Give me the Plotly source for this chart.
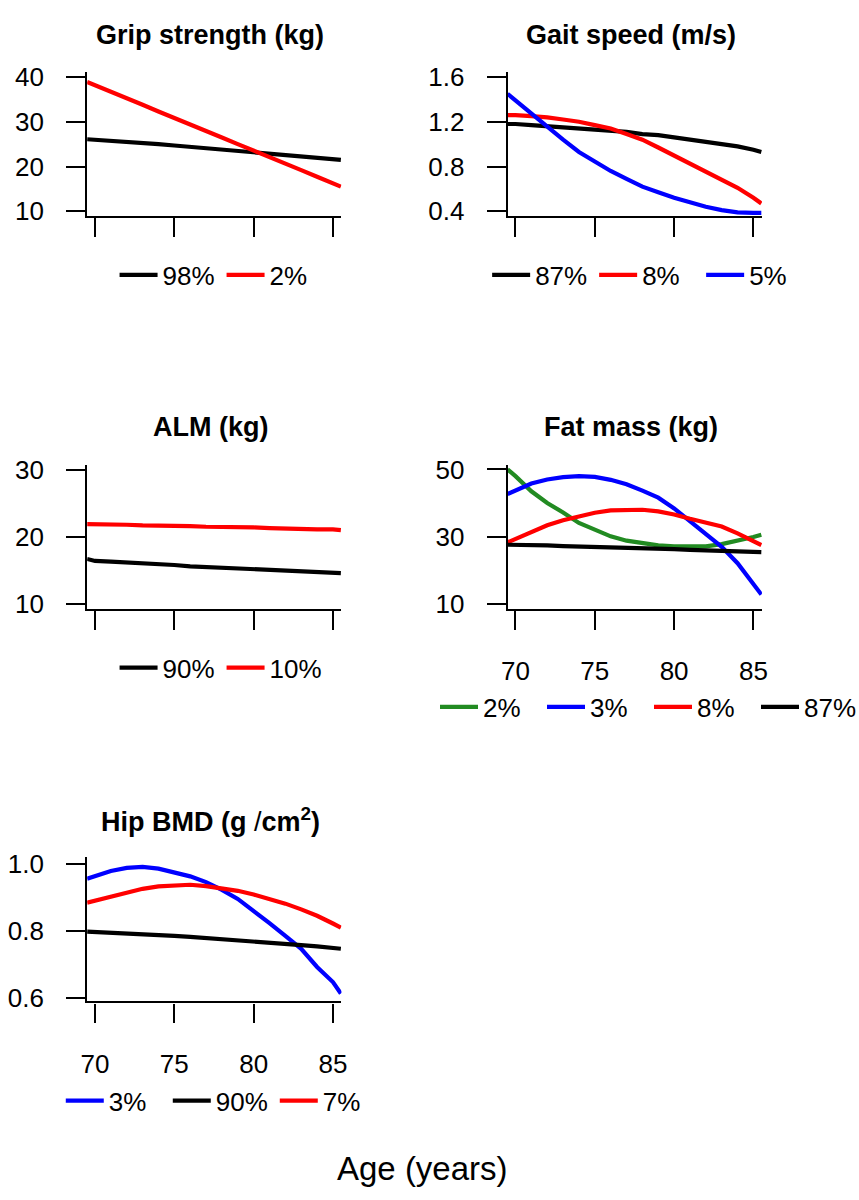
import plotly.graph_objects as go

# ---- data -------------------------------------------------------------
AGE = [69.5, 70, 71, 72, 73, 74, 75, 76, 77, 78, 79, 80, 81, 82, 83, 84, 85, 85.5]

grip_98 = [26.1, 26.0, 25.8, 25.5, 25.2, 25.0, 24.7, 24.4, 24.1, 23.8, 23.5, 23.3, 23.0, 22.7, 22.4, 22.1, 21.8, 21.5]
grip_2 = [38.9, 38.2, 36.7, 35.3, 33.8, 32.3, 30.9, 29.4, 27.9, 26.5, 25.0, 23.6, 22.1, 20.7, 19.2, 17.7, 16.3, 15.5]

gait_87 = [1.18, 1.18, 1.17, 1.16, 1.15, 1.14, 1.13, 1.12, 1.11, 1.09, 1.08, 1.06, 1.04, 1.02, 1.00, 0.98, 0.95, 0.93]
gait_8 = [1.26, 1.26, 1.25, 1.24, 1.22, 1.20, 1.17, 1.14, 1.09, 1.04, 0.97, 0.90, 0.83, 0.75, 0.68, 0.61, 0.52, 0.47]
gait_5 = [1.45, 1.39, 1.27, 1.15, 1.04, 0.93, 0.84, 0.76, 0.69, 0.62, 0.57, 0.52, 0.48, 0.44, 0.41, 0.39, 0.385, 0.385]

alm_90 = [16.7, 16.4, 16.3, 16.2, 16.0, 15.9, 15.8, 15.6, 15.5, 15.4, 15.2, 15.1, 15.0, 14.9, 14.8, 14.7, 14.6, 14.6]
alm_10 = [21.9, 21.9, 21.8, 21.8, 21.7, 21.7, 21.6, 21.6, 21.5, 21.5, 21.4, 21.4, 21.3, 21.2, 21.2, 21.1, 21.1, 21.0]

fat_2 = [50.0, 48.0, 43.5, 40.0, 37.2, 34.1, 32.1, 30.1, 28.8, 28.0, 27.4, 27.1, 27.0, 27.1, 27.8, 28.7, 29.9, 30.6]
fat_3 = [42.7, 43.8, 45.8, 47.0, 47.7, 48.0, 47.8, 46.9, 45.6, 43.7, 41.6, 38.4, 34.7, 30.9, 27.0, 22.1, 16.2, 12.8]
fat_8 = [28.3, 29.3, 31.3, 33.4, 34.9, 36.1, 37.1, 37.8, 38.0, 38.0, 37.5, 36.6, 35.3, 34.1, 33.0, 31.0, 28.7, 27.5]
fat_87 = [27.6, 27.6, 27.5, 27.4, 27.2, 27.1, 27.0, 26.8, 26.7, 26.6, 26.4, 26.3, 26.1, 26.0, 25.8, 25.6, 25.5, 25.4]

hip_3 = [0.955, 0.962, 0.978, 0.987, 0.990, 0.985, 0.975, 0.962, 0.945, 0.922, 0.895, 0.860, 0.823, 0.785, 0.747, 0.693, 0.648, 0.614]
hip_90 = [0.798, 0.797, 0.795, 0.793, 0.790, 0.788, 0.785, 0.782, 0.779, 0.776, 0.773, 0.769, 0.766, 0.762, 0.758, 0.754, 0.749, 0.747]
hip_7 = [0.884, 0.890, 0.902, 0.915, 0.925, 0.932, 0.936, 0.937, 0.933, 0.927, 0.919, 0.908, 0.895, 0.881, 0.864, 0.845, 0.822, 0.810]

X_TICKS = [70, 75, 80, 85]
GRIP_TICKS = [10, 20, 30, 40]
GAIT_TICKS = [0.4, 0.8, 1.2, 1.6]
GAIT_TICK_TEXT = ["0.4", "0.8", "1.2", "1.6"]
ALM_TICKS = [10, 20, 30]
FAT_TICKS = [10, 30, 50]
HIP_TICKS = [0.6, 0.8, 1.0]
HIP_TICK_TEXT = ["0.6", "0.8", "1.0"]

TITLES = ["Grip strength (kg)", "Gait speed (m/s)", "ALM (kg)", "Fat mass (kg)",
          "Hip BMD (g<span style='font-weight:normal'> /</span>cm<sup>2</sup>)"]
X_LABEL = "Age (years)"

# ---- page geometry (pixels) -------------------------------------------
W, H = 859, 1200
FONT = "Liberation Sans, Arial, sans-serif"
BLACK, RED, BLUE, GREEN = "#000000", "#ff0000", "#0000ff", "#228b22"
TICK_SIZE, LEG_SIZE, TITLE_SIZE, XLAB_SIZE = 26, 26, 27, 33

COLS = [(82, 342), (512, 772)]          # left/right pixel edge of each plot box
ROWS = [(63, 210), (463, 610), (863, 1010)]  # top/bottom pixel edge


def px_x(p):
    return p / W


def px_y(p):
    return 1 - p / H


def span(v1, p1, v2, p2, lo, hi):
    """Axis range so that value v1 sits at pixel p1, v2 at p2, box spans lo..hi."""
    k = (v2 - v1) / (p2 - p1)
    return [v1 + (lo - p1) * k, v1 + (hi - p1) * k]


fig = go.Figure()

panels = [
    dict(col=0, row=0, ticks=GRIP_TICKS, text=None, ref=(40, 68.3, 10, 205.0),
         series=[(grip_98, BLACK, "98%"), (grip_2, RED, "2%")], xlab=False,
         leg=(110, 270)),
    dict(col=1, row=0, ticks=GAIT_TICKS, text=GAIT_TICK_TEXT, ref=(1.6, 68.3, 0.4, 205.0),
         series=[(gait_87, BLACK, "87%"), (gait_8, RED, "8%"), (gait_5, BLUE, "5%")], xlab=False,
         leg=(491, 270)),
    dict(col=0, row=1, ticks=ALM_TICKS, text=None, ref=(30, 468.3, 10, 605.0),
         series=[(alm_90, BLACK, "90%"), (alm_10, RED, "10%")], xlab=False,
         leg=(110, 670)),
    dict(col=1, row=1, ticks=FAT_TICKS, text=None, ref=(50, 468.0, 10, 605.0),
         series=[(fat_2, GREEN, "2%"), (fat_3, BLUE, "3%"), (fat_8, RED, "8%"), (fat_87, BLACK, "87%")],
         xlab=True, leg=(438, 710)),
    dict(col=0, row=2, ticks=HIP_TICKS, text=HIP_TICK_TEXT, ref=(1.0, 869.5, 0.6, 1006.7),
         series=[(hip_3, BLUE, "3%"), (hip_90, BLACK, "90%"), (hip_7, RED, "7%")], xlab=True,
         leg=(55, 1111)),
]

layout = dict(
    width=W, height=H, margin=dict(l=0, r=0, t=0, b=0),
    paper_bgcolor="white", plot_bgcolor="white",
    font=dict(family=FONT, size=TICK_SIZE, color=BLACK),
    annotations=[],
)

for i, p in enumerate(panels):
    n = "" if i == 0 else str(i + 1)
    x0, x1 = COLS[p["col"]]
    top, bot = ROWS[p["row"]]
    legname = "legend" + n

    for j, (vals, color, name) in enumerate(p["series"]):
        tr = dict(
            x=AGE, y=vals, mode="lines", name=name,
            line=dict(color=color, width=4.2),
            xaxis="x" + n, yaxis="y" + n, legend=legname,
        )
        if j == len(p["series"]) - 1:
            tr["legendwidth"] = 50
        fig.add_trace(go.Scatter(**tr))

    axis_common = dict(
        showline=True, linecolor=BLACK, linewidth=2.2,
        ticks="outside", ticklen=19, tickwidth=2.2, tickcolor=BLACK,
        showgrid=False, zeroline=False, fixedrange=True,
        tickfont=dict(family=FONT, size=TICK_SIZE, color=BLACK),
    )
    layout["xaxis" + n] = dict(
        axis_common, domain=[px_x(x0), px_x(x1)], anchor="y" + n,
        range=span(70, x0 + 8.0, 85, x1 - 8.7, x0, x1),
        tickmode="array", tickvals=X_TICKS, showticklabels=p["xlab"],
        ticklabelstandoff=19,
    )
    v1, p1, v2, p2 = p["ref"]
    yaxis = dict(
        axis_common, domain=[px_y(bot), px_y(top)], anchor="x" + n,
        range=span(v1, p1, v2, p2, bot, top),
        tickmode="array", tickvals=p["ticks"], ticklabelstandoff=17,
    )
    if p["text"]:
        yaxis["ticktext"] = p["text"]
    layout["yaxis" + n] = yaxis

    lx, ly = p["leg"]
    layout[legname] = dict(
        orientation="h", x=px_x(lx), y=px_y(ly), xanchor="left", yanchor="middle",
        xref="paper", yref="paper", bgcolor="rgba(0,0,0,0)", borderwidth=0,
        font=dict(family=FONT, size=LEG_SIZE, color=BLACK),
        itemwidth=38, entrywidth=54, entrywidthmode="pixels",
        itemclick=False, itemdoubleclick=False,
    )

    layout["annotations"].append(dict(
        text="<b>" + TITLES[i] + "</b>", x=px_x((x0 + x1) / 2 - 4), y=px_y(top - 38),
        xref="paper", yref="paper", xanchor="center", yanchor="middle",
        showarrow=False, font=dict(family=FONT, size=TITLE_SIZE, color=BLACK),
    ))

layout["annotations"].append(dict(
    text=X_LABEL, x=px_x(425), y=px_y(1180), xref="paper", yref="paper",
    xanchor="center", yanchor="middle", showarrow=False,
    font=dict(family=FONT, size=XLAB_SIZE, color=BLACK),
))

fig.update_layout(**layout)
fig.update_layout(showlegend=True)
fig.write_html("out.html")
